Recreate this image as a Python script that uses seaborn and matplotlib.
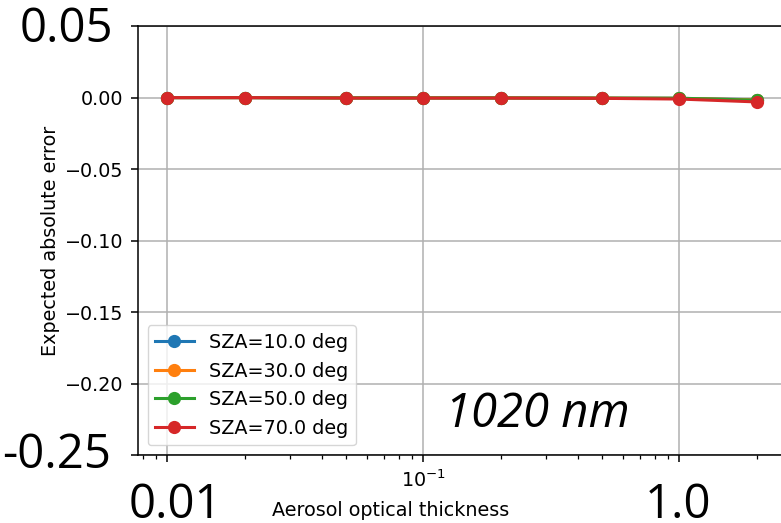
import matplotlib
matplotlib.use("Agg")
import matplotlib.pyplot as plt
import seaborn as sns
import numpy as np
from matplotlib.ticker import FuncFormatter, NullFormatter

# ---- data ----
aot = [0.01, 0.02, 0.05, 0.1, 0.2, 0.5, 1.0, 2.0]
sza_labels = ["SZA=10.0 deg", "SZA=30.0 deg", "SZA=50.0 deg", "SZA=70.0 deg"]
err_sza10 = [0.0, 0.0, -0.0002, -0.0002, -0.0002, -0.0003, -0.0005, -0.0015]
err_sza30 = [0.0, 0.0, -0.0002, -0.0002, -0.0002, -0.0003, -0.0005, -0.0016]
err_sza50 = [0.0, 0.0, -0.0002, -0.0002, -0.0002, -0.0004, -0.0004, -0.0018]
err_sza70 = [0.0, 0.0, -0.0003, -0.0003, -0.0003, -0.0005, -0.0010, -0.0030]
series = [err_sza10, err_sza30, err_sza50, err_sza70]
colors = ["#1f77b4", "#ff7f0e", "#2ca02c", "#d62728"]

yticks = [-0.25, -0.20, -0.15, -0.10, -0.05, 0.00, 0.05]
xticks_major = [0.01, 0.1, 1.0]
xtick_labels = ["", "$\\mathdefault{10^{-1}}$", ""]

FS = 13.8

fig = plt.figure(figsize=(7.81, 5.23), dpi=100)
ax = fig.add_axes([0.1767, 0.130, 0.8297, 0.820])

for lab, vals, c in zip(sza_labels, series, colors):
    sns.lineplot(x=aot, y=vals, ax=ax, label=lab, color=c, marker="o",
                 markersize=9.5, markeredgewidth=0, linewidth=2.2)

ax.set_xscale("log")
ax.set_xlim(10 ** -2.115, 10 ** 0.416)
ax.set_ylim(-0.25, 0.05)
ax.set_xticks(xticks_major)
ax.set_xticklabels(xtick_labels)
ax.xaxis.set_minor_formatter(NullFormatter())
ax.set_yticks(yticks)


def yfmt(v, pos):
    if abs(v - 0.05) < 1e-9 or abs(v + 0.25) < 1e-9:
        return ""
    s = f"{v:.2f}"
    if s == "-0.00":
        s = "0.00"
    return s.replace("-", "\u2212")


ax.yaxis.set_major_formatter(FuncFormatter(yfmt))
ax.tick_params(which="major", labelsize=FS, length=5, width=1.1, pad=5.5)
ax.tick_params(which="minor", length=2.8, width=0.9)
ax.grid(True, which="major", color="#b0b0b0", linewidth=1.1)
ax.set_axisbelow(True)
for sp in ax.spines.values():
    sp.set_color("black")
    sp.set_linewidth(1.1)

ax.set_xlabel("Aerosol optical thickness", fontsize=FS)
ax.set_ylabel("Expected absolute error", fontsize=FS)
ax.xaxis.set_label_coords((461 - 138) / 829, -0.107)
ax.yaxis.set_label_coords(-0.1206, 0.5)

leg = ax.legend(loc="lower left", fontsize=FS, framealpha=0.8)

big = dict(family=["Open Sans", "DejaVu Sans"], fontsize=34, color="black")
H = 523.0
fig.text(66 / 781, 1 - 42 / H, "0.05", ha="center", va="baseline", **big)
fig.text(57 / 781, 1 - 468 / H, "-0.25", ha="center", va="baseline", **big)
fig.text(175 / 781, 1 - 518 / H, "0.01", ha="center", va="baseline", **big)
fig.text(678 / 781, 1 - 518 / H, "1.0", ha="center", va="baseline", **big)
fig.text(537 / 781, 1 - 427 / H, "1020 nm", ha="center", va="baseline",
         style="italic", **big)

fig.savefig("out.png", dpi=100)
